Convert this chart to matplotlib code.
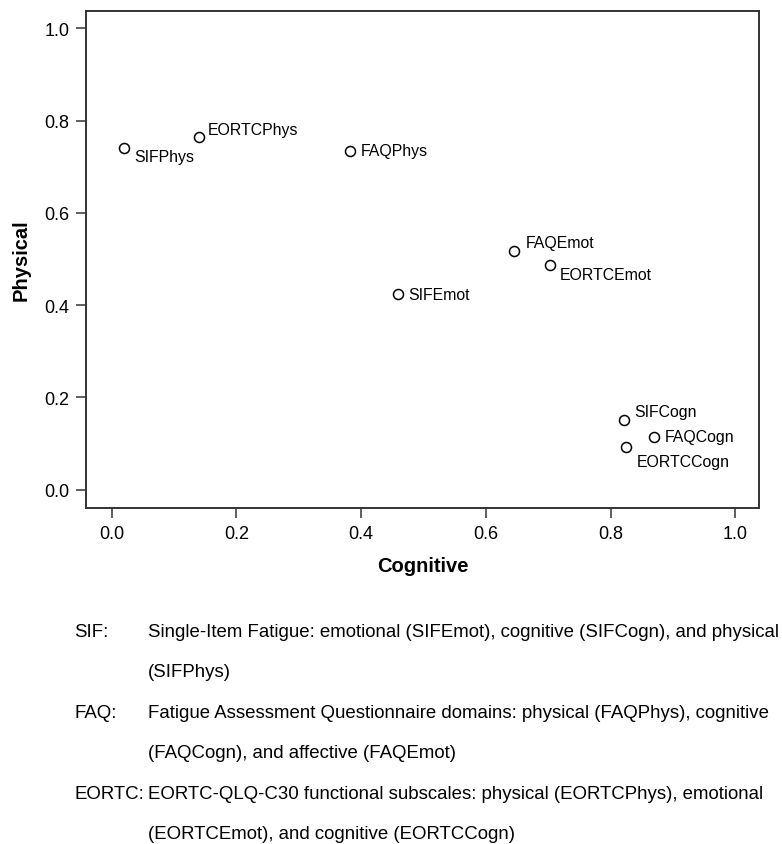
import matplotlib.pyplot as plt

plt.rcParams['font.family'] = ['Liberation Sans', 'DejaVu Sans']

labels = ['SIFPhys', 'EORTCPhys', 'FAQPhys', 'SIFEmot', 'FAQEmot',
          'EORTCEmot', 'SIFCogn', 'FAQCogn', 'EORTCCogn']
cognitive = [0.020, 0.140, 0.382, 0.460, 0.646, 0.703, 0.821, 0.869, 0.825]
physical = [0.741, 0.764, 0.735, 0.423, 0.517, 0.487, 0.150, 0.115, 0.092]

# label offsets in pixels (dx, dy) relative to each point
offsets = [(10, -9), (9, 8), (11, 0), (10, 0), (11, 9),
           (10, -10), (11, 9), (11, 0), (11, -14)]

notes = [
    ('SIF:', 'Single-Item Fatigue: emotional (SIFEmot), cognitive (SIFCogn), and physical'),
    ('', '(SIFPhys)'),
    ('FAQ:', 'Fatigue Assessment Questionnaire domains: physical (FAQPhys), cognitive'),
    ('', '(FAQCogn), and affective (FAQEmot)'),
    ('EORTC:', 'EORTC-QLQ-C30 functional subscales: physical (EORTCPhys), emotional'),
    ('', '(EORTCEmot), and cognitive (EORTCCogn)'),
]

W, H = 782, 845
fig = plt.figure(figsize=(W / 100, H / 100), dpi=100)
ax = fig.add_axes([86 / W, 1 - 509 / H, (759 - 86) / W, (509 - 12) / H])

ax.scatter(cognitive, physical, s=52, facecolors='white', edgecolors='black',
           linewidths=1.1, zorder=3)
for lab, x, y, (dx, dy) in zip(labels, cognitive, physical, offsets):
    ax.annotate(lab, (x, y), xytext=(dx, dy), textcoords='offset pixels',
                ha='left', va='center', fontsize=11.4)

ax.set_xlim(-0.041, 1.038)
ax.set_ylim(-0.040, 1.0375)
ticks = [0.0, 0.2, 0.4, 0.6, 0.8, 1.0]
ax.set_xticks(ticks)
ax.set_yticks(ticks)
ax.set_xticklabels([f'{t:.1f}' for t in ticks])
ax.set_yticklabels([f'{t:.1f}' for t in ticks])
ax.tick_params(direction='out', length=7, width=1.1, labelsize=13,
               color='#333333', pad=5)
for s in ax.spines.values():
    s.set_linewidth(1.4)
    s.set_color('#333333')

ax.set_xlabel('Cognitive', fontsize=14.5, fontweight='bold', labelpad=10)
ax.set_ylabel('Physical', fontsize=14.5, fontweight='bold', labelpad=10)

# footnote, one baseline every ~40.6 px
for i, (key, text) in enumerate(notes):
    y = 1 - (637 + i * 40.4) / H
    if key:
        fig.text(74 / W, y, key, ha='left', va='baseline', fontsize=13.4)
    fig.text(148 / W, y, text, ha='left', va='baseline', fontsize=13.4)

fig.savefig('out.png', dpi=100)
